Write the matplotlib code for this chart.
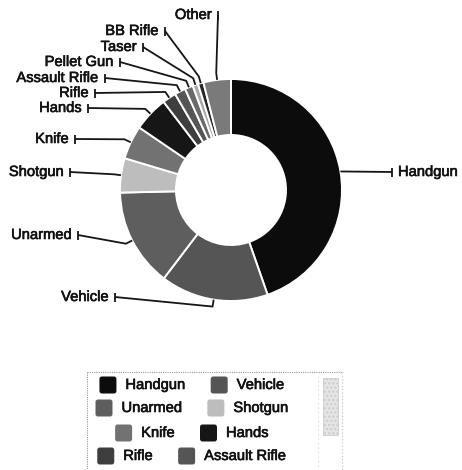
import matplotlib
matplotlib.use('Agg')
import matplotlib.pyplot as plt
import matplotlib.patheffects as pe
import numpy as np
from matplotlib.patches import FancyBboxPatch, Rectangle

# ---------------- data ----------------
categories = ['Handgun', 'Vehicle', 'Unarmed', 'Shotgun', 'Knife', 'Hands',
              'Rifle', 'Assault Rifle', 'Pellet Gun', 'Taser', 'BB Rifle', 'Other']
values = [44.7, 15.7, 14.3, 5.0, 4.9, 5.1, 2.0, 1.6, 1.2, 0.8, 0.8, 4.0]
colors = ['#0c0c0c', '#555555', '#5e5e5e', '#bdbdbd', '#727272', '#161616',
          '#3e3e3e', '#555555', '#6a6a6a', '#a8a8a8', '#262626', '#7a7a7a']
legend_rows = [['Handgun', 'Vehicle'], ['Unarmed', 'Shotgun'],
               ['Knife', 'Hands'], ['Rifle', 'Assault Rifle']]

# ---------------- layout (pixels, y from top) ----------------
W, H = 462, 470
CX, CY, R, RIN = 231, 190, 111, 55
label_ticks = {  # tick x, label y
    'Handgun': (392, 172), 'Vehicle': (115, 297), 'Unarmed': (78, 235),
    'Shotgun': (70, 172), 'Knife': (75, 139), 'Hands': (88, 108),
    'Rifle': (95, 93), 'Assault Rifle': (105, 78), 'Pellet Gun': (120, 62),
    'Taser': (143, 47), 'BB Rifle': (165, 31), 'Other': (218, 15),
}
FONT = 'Liberation Sans'
FS = 10.6
TXT_FX = [pe.withStroke(linewidth=0.45, foreground='#111')]

def Y(y):
    return H - y

fig = plt.figure(figsize=(W / 100, H / 100), dpi=100)
ax = fig.add_axes([0, 0, 1, 1])
wedges, _ = ax.pie(values, colors=colors, startangle=90, counterclock=False,
                   radius=R, center=(CX, Y(CY)),
                   wedgeprops=dict(width=R - RIN, edgecolor='white', linewidth=1.4))
ax.set_xlim(0, W)
ax.set_ylim(0, H)
ax.set_aspect('auto')
ax.axis('off')

line_kw = dict(color='#151515', lw=1.3, solid_capstyle='butt')
for w, name in zip(wedges, categories):
    th = np.deg2rad((w.theta1 + w.theta2) / 2)
    px, py = CX + R * np.cos(th), Y(CY) + R * np.sin(th)
    ex, ey = CX + (R + 7) * np.cos(th), Y(CY) + (R + 7) * np.sin(th)
    tx, ty = label_ticks[name]
    ty = Y(ty)
    if name == 'Handgun':
        ax.plot([px, tx], [py, ty], **line_kw)
        ax.text(tx + 6, ty, name, ha='left', va='center', fontsize=FS,
                family=FONT, color='#111', path_effects=TXT_FX)
    else:
        ax.plot([tx, ex, px], [ty, ey, py], **line_kw)
        ax.text(tx - 6, ty, name, ha='right', va='center', fontsize=FS,
                family=FONT, color='#111', path_effects=TXT_FX)
    ax.plot([tx, tx], [ty - 4.5, ty + 4.5], **line_kw)

# ---------------- legend ----------------
bl, br, bt = 87, 342, 372
ax.plot([bl, br], [Y(bt), Y(bt)], color='#9a9a9a', lw=0.8, ls=(0, (1, 1)))
ax.plot([bl, bl], [Y(bt), 0], color='#9a9a9a', lw=0.8, ls=(0, (1, 1)))
ax.plot([br, br], [Y(bt), 0], color='#bdbdbd', lw=0.8, ls=(0, (1, 2)))
ax.plot([318, 318], [Y(bt + 4), 0], color='#cfcfcf', lw=0.8, ls=(0, (1, 3)))
ax.add_patch(Rectangle((323, Y(435)), 15, 57, facecolor='#e4e4e4',
                       edgecolor='#cccccc', lw=0.6, hatch='....'))

fig.canvas.draw()
renderer = fig.canvas.get_renderer()
row_y = [385, 408, 433, 456]
MK, GAP, IGAP, LCX = 17, 9, 25, 192
cmap = dict(zip(categories, colors))
for names, ry in zip(legend_rows, row_y):
    widths = []
    for n in names:
        t = ax.text(0, 0, n, fontsize=FS, family=FONT)
        widths.append(t.get_window_extent(renderer).width)
        t.remove()
    total = sum(MK + GAP + wd for wd in widths) + IGAP * (len(names) - 1)
    x = LCX - total / 2
    for n, wd in zip(names, widths):
        ax.add_patch(FancyBboxPatch((x, Y(ry) - MK / 2), MK, MK,
                                    boxstyle='round,pad=0,rounding_size=2.5',
                                    facecolor=cmap[n], edgecolor='none'))
        ax.text(x + MK + GAP, Y(ry), n, ha='left', va='center', fontsize=FS,
                family=FONT, color='#111', path_effects=TXT_FX)
        x += MK + GAP + wd + IGAP

fig.savefig('out.png', dpi=100)
